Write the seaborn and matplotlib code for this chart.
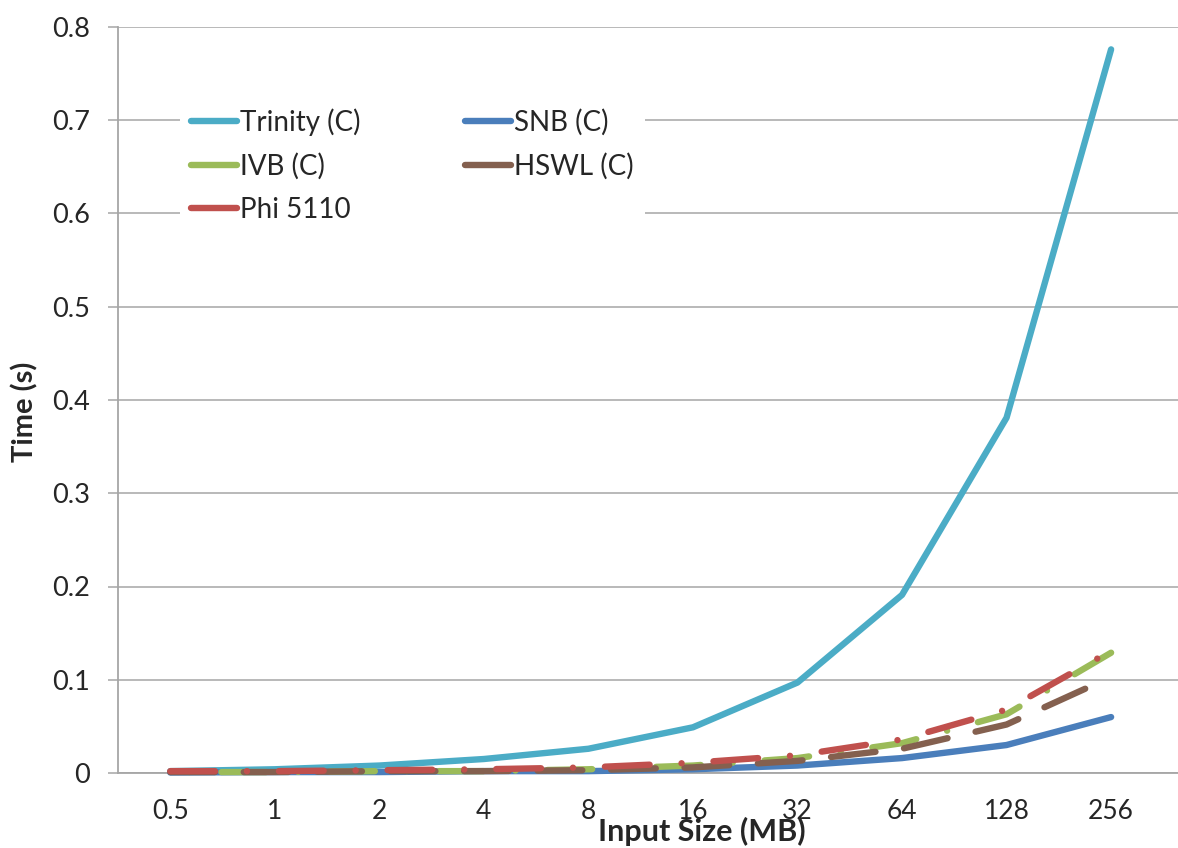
import numpy as np
import pandas as pd
import matplotlib
matplotlib.use("Agg")
import matplotlib.pyplot as plt
from matplotlib.lines import Line2D
from matplotlib.ticker import FixedLocator, MultipleLocator
import seaborn as sns

sizes = ["0.5", "1", "2", "4", "8", "16", "32", "64", "128", "256"]
trinity = [0.002, 0.004, 0.008, 0.015, 0.026, 0.049, 0.097, 0.191, 0.381, 0.776]
snb = [0.0005, 0.001, 0.001, 0.002, 0.002, 0.004, 0.008, 0.016, 0.030, 0.060]
ivb = [0.001, 0.001, 0.002, 0.002, 0.004, 0.008, 0.016, 0.032, 0.063, 0.129]
hswl = [0.001, 0.001, 0.002, 0.002, 0.003, 0.006, 0.013, 0.026, 0.052, 0.103]
phi = [0.002, 0.002, 0.003, 0.004, 0.006, 0.011, 0.019, 0.036, 0.068, 0.131]

series_names = ["Trinity (C)", "SNB (C)", "IVB (C)", "HSWL (C)", "Phi 5110"]
series_vals = [trinity, snb, ivb, hswl, phi]
colors = {"Trinity (C)": "#4BACC6", "SNB (C)": "#4A7EBB", "IVB (C)": "#9BBB59",
          "HSWL (C)": "#84604F", "Phi 5110": "#C0504D"}
dashes = {"Trinity (C)": "", "SNB (C)": "", "IVB (C)": (7, 5, 0.01, 5),
          "HSWL (C)": (7, 4.5), "Phi 5110": (7, 5, 0.01, 5)}

rows = []
for name, vals in zip(series_names, series_vals):
    for i, v in enumerate(vals):
        rows.append({"pos": i, "size": sizes[i], "time": v, "series": name})
df = pd.DataFrame(rows)

sns.set_style("white")
plt.rcParams["font.family"] = ["Lato", "DejaVu Sans"]

LW = 4.6
fig = plt.figure(figsize=(11.78, 8.48), dpi=100)
ax = fig.add_axes([118 / 1178, 1 - 773 / 848, 1 - 118 / 1178, (773 - 27) / 848])

sns.lineplot(data=df, x="pos", y="time", hue="series", style="series",
             hue_order=series_names, style_order=series_names,
             palette=colors, dashes=dashes, linewidth=LW, legend=False, ax=ax,
             sort=False)
for ln in ax.lines:
    ln.set_solid_capstyle("round")
    ln.set_dash_capstyle("round")
    ln.set_solid_joinstyle("round")
    ln.set_clip_on(False)
    ln.set_zorder(3)
# shift the IVB dash phase relative to Phi so both remain visible
ax.lines[2].set_linestyle((9, (7, 5, 0.01, 5)))

ax.set_xlim(-0.5, 9.64)
ax.set_ylim(0, 0.8)
ax.yaxis.set_major_locator(MultipleLocator(0.1))
ax.set_yticklabels(["0" if abs(t) < 1e-9 else f"{t:.1f}" for t in ax.get_yticks()],
                   fontsize=19.5)
ax.grid(axis="y", color="#A6A6A6", linewidth=1.1, zorder=0)
ax.grid(axis="x", visible=False)

ax.set_xticks(range(len(sizes)))
ax.set_xticklabels(sizes, fontsize=19)
ax.xaxis.set_minor_locator(FixedLocator(np.arange(-0.5, 10, 1.0)))
ax.tick_params(axis="x", which="major", length=0, pad=19)
ax.tick_params(axis="x", which="minor", length=10, width=1.2, color="#A6A6A6", direction="out")
ax.tick_params(axis="y", which="major", length=7, width=1.1, color="#A6A6A6", direction="out", pad=13,
               left=True)

for s in ["top", "right"]:
    ax.spines[s].set_visible(False)
for s in ["left", "bottom"]:
    ax.spines[s].set_color("#A6A6A6")
    ax.spines[s].set_linewidth(1.3)

ax.set_xlabel("Input Size (MB)", fontsize=22, fontweight="bold")
ax.xaxis.set_label_coords((702 - 118) / 1060, (773 - 841) / 746)
ax.xaxis.label.set_va("baseline")
ax.set_ylabel("Time (s)", fontsize=21, fontweight="bold")
ax.yaxis.set_label_coords((25 - 118) / 1060, (773 - 412) / 746)
ax.yaxis.label.set_va("center")

order = ["Trinity (C)", "IVB (C)", "Phi 5110", "SNB (C)", "HSWL (C)"]
handles = [Line2D([0], [0], color=colors[n], linewidth=LW, solid_capstyle="round") for n in order]
leg = ax.legend(handles, order, ncol=2, loc="upper left",
                bbox_to_anchor=(166 / 1178, 1 - 83 / 848), bbox_transform=fig.transFigure,
                fontsize=20, handlelength=1.65, handletextpad=0.12, columnspacing=3.75,
                labelspacing=0.62, frameon=True, borderpad=0.4)
leg.get_frame().set_facecolor("white")
leg.get_frame().set_edgecolor("none")
leg.get_frame().set_alpha(1)

fig.savefig("out.png", dpi=100)
